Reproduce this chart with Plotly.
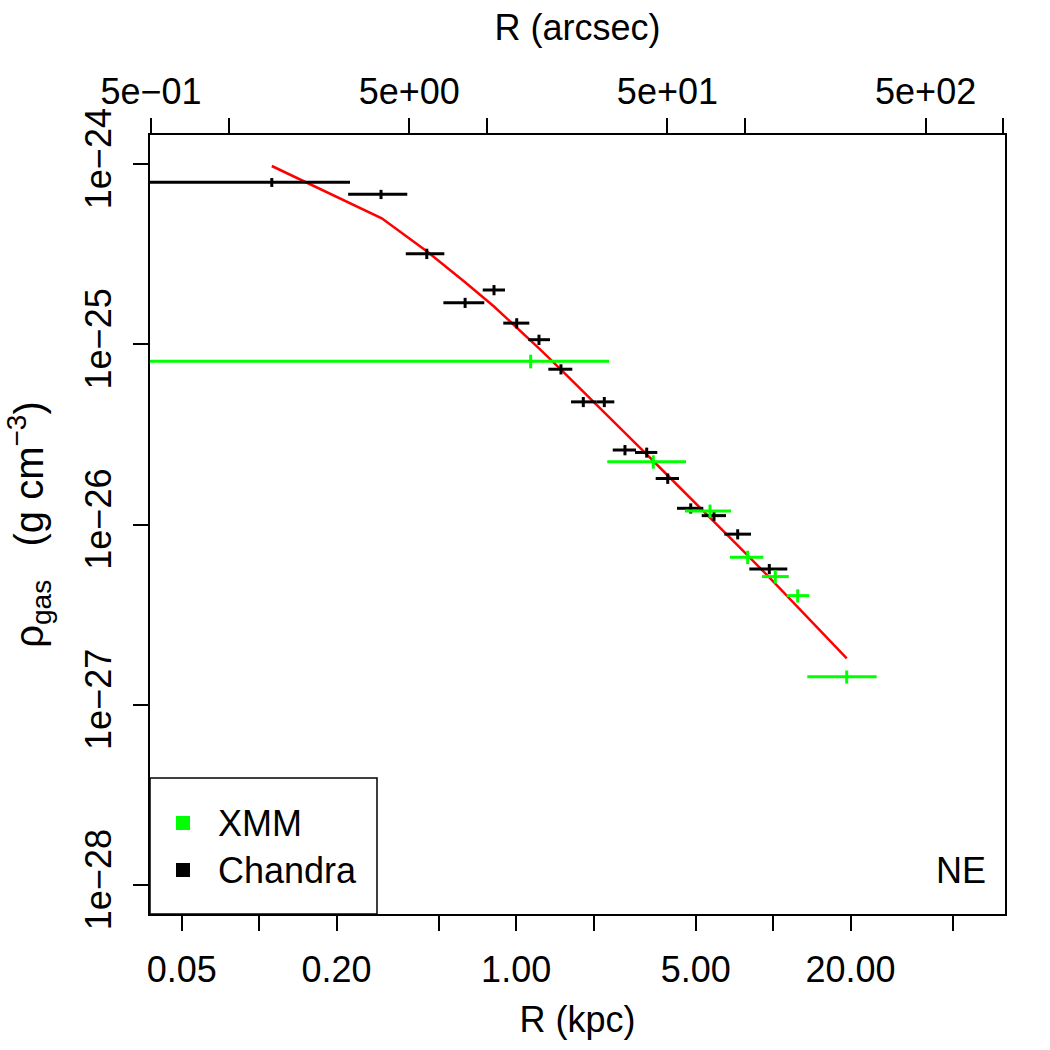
import plotly.graph_objects as go

# ---------------- data ----------------
# Chandra points: radius (kpc), bin edges (kpc), density (g cm^-3), density error
chandra_r = [0.112, 0.298, 0.449, 0.633, 0.820, 1.005, 1.227, 1.494, 1.825,
             2.203, 2.651, 3.221, 3.888, 4.778, 5.886, 7.278, 9.66]
chandra_r_lo = [0.02, 0.222, 0.372, 0.521, 0.741, 0.891, 1.115, 1.334, 1.635,
                2.054, 2.376, 2.900, 3.491, 4.225, 5.272, 6.455, 8.077]
chandra_r_hi = [0.2257, 0.377, 0.5255, 0.7516, 0.9049, 1.125, 1.354, 1.654, 2.054,
                2.410, 2.926, 3.542, 4.301, 5.348, 6.554, 8.20, 11.35]
chandra_rho = [7.91e-25, 6.79e-25, 3.18e-25, 1.70e-25, 2.00e-25, 1.31e-25, 1.06e-25,
               7.27e-26, 4.79e-26, 4.79e-26, 2.59e-26, 2.51e-26, 1.80e-26, 1.23e-26,
               1.12e-26, 8.84e-27, 5.67e-27]
chandra_rho_err = [0.45e-25, 0.40e-25, 0.21e-25, 0.11e-25, 0.13e-25, 0.085e-25, 0.07e-25,
                   0.47e-26, 0.31e-26, 0.31e-26, 0.17e-26, 0.16e-26, 0.12e-26, 0.08e-26,
                   0.073e-26, 0.57e-27, 0.37e-27]

# XMM points
xmm_r = [1.139, 3.417, 5.679, 7.96, 10.19, 12.46, 19.33]
xmm_r_lo = [0.02, 2.262, 4.539, 6.794, 9.05, 11.29, 13.58]
xmm_r_hi = [2.298, 4.58, 6.855, 9.155, 11.5, 13.82, 25.28]
xmm_rho = [8.05e-26, 2.23e-26, 1.19e-26, 6.59e-27, 5.14e-27, 4.03e-27, 1.43e-27]
xmm_rho_err = [0.7e-26, 0.19e-26, 0.10e-26, 0.56e-27, 0.44e-27, 0.34e-27, 0.12e-27]

# model curve (red)
model_r = [0.112, 0.300, 0.449, 0.633, 0.820, 1.005, 1.227, 1.494, 1.825, 2.203,
           2.651, 3.221, 3.888, 4.778, 5.886, 7.278, 9.66, 19.33]
model_rho = [9.75e-25, 5.00e-25, 3.28e-25, 2.21e-25, 1.62e-25, 1.24e-25, 9.48e-26,
             7.24e-26, 5.47e-26, 4.20e-26, 3.23e-26, 2.45e-26, 1.87e-26, 1.40e-26,
             1.04e-26, 7.66e-27, 5.09e-27, 1.81e-27]

# axes ticks
kpc_ticks = [0.05, 0.1, 0.2, 0.5, 1, 2, 5, 10, 20, 50]
kpc_labels = ["0.05", "", "0.20", "", "1.00", "", "5.00", "", "20.00", ""]
arcsec_ticks = [0.5, 1, 5, 10, 50, 100, 500, 1000]
arcsec_labels = ["5e\u221201", "", "5e+00", "", "5e+01", "", "5e+02", ""]
rho_ticks = [1e-24, 1e-25, 1e-26, 1e-27, 1e-28]
rho_labels = ["1e\u221224", "1e\u221225", "1e\u221226", "1e\u221227", "1e\u221228"]

legend_labels = ["XMM", "Chandra"]
legend_colors = ["#00ff00", "#000000"]
region_label = "NE"

# ---------------- figure ----------------
FONT = "Liberation Sans, Arial, Helvetica, sans-serif"
W = H = 1050
ML, MR, MT, MB = 150, 45, 135, 136
PW, PH = W - ML - MR, H - MT - MB


def px_x(px):
    return (px - ML) / PW


def px_y(py):
    return (H - MB - py) / PH


fig = go.Figure()

fig.add_trace(go.Scatter(
    x=model_r, y=model_rho, mode="lines",
    line=dict(color="#ff0000", width=2.5), showlegend=False, hoverinfo="skip"))


def add_points(r, rlo, rhi, rho, err, color, name):
    fig.add_trace(go.Scatter(
        x=r, y=rho, mode="markers", name=name,
        marker=dict(size=1, color=color),
        error_x=dict(type="data", symmetric=False,
                     array=[h - c for h, c in zip(rhi, r)],
                     arrayminus=[c - l for c, l in zip(r, rlo)],
                     color=color, thickness=3, width=0),
        error_y=dict(type="data", array=err, color=color, thickness=3, width=0),
        showlegend=False))


add_points(chandra_r, chandra_r_lo, chandra_r_hi, chandra_rho, chandra_rho_err,
           "#000000", "Chandra")
add_points(xmm_r, xmm_r_lo, xmm_r_hi, xmm_rho, xmm_rho_err, "#00ff00", "XMM")

# invisible trace to carry the top (arcsec) axis
fig.add_trace(go.Scatter(x=arcsec_ticks, y=[None] * len(arcsec_ticks), xaxis="x2",
                         mode="markers", showlegend=False, hoverinfo="skip"))

axis_common = dict(showgrid=False, zeroline=False, ticks="outside", ticklen=15,
                   tickwidth=1.5, tickcolor="black", showline=True, linewidth=2,
                   linecolor="black", automargin=False,
                   tickfont=dict(size=36, family=FONT, color="black"))

fig.update_layout(
    width=W, height=H, autosize=False,
    margin=dict(l=ML, r=MR, t=MT, b=MB, pad=0, autoexpand=False),
    paper_bgcolor="white", plot_bgcolor="white",
    font=dict(family=FONT, size=36, color="black"),
    showlegend=False,
    xaxis=dict(type="log", range=[-1.4247, 1.9021], tickvals=kpc_ticks,
               ticktext=kpc_labels, mirror=True, ticklabelstandoff=8,
               title=dict(text="R (kpc)", font=dict(size=36, family=FONT), standoff=18),
               **axis_common),
    xaxis2=dict(type="log", range=[-0.3049, 3.0064], overlaying="x", side="top",
                anchor="y", tickvals=arcsec_ticks, ticktext=arcsec_labels,
                ticklabelstandoff=0,
                title=dict(text="R (arcsec)", font=dict(size=36, family=FONT), standoff=19),
                **axis_common),
    yaxis=dict(type="log", range=[-28.161, -23.839], tickvals=rho_ticks,
               ticktext=rho_labels, tickangle=-90, mirror=True, ticklabelstandoff=8,
               title=dict(text="\u03c1<sub>gas</sub>   (g cm<sup>\u22123</sup>)",
                          font=dict(size=40, family=FONT), standoff=22),
               **axis_common),
)

# legend box (bottom-left)
shapes = [dict(type="rect", xref="paper", yref="paper",
               x0=px_x(150), x1=px_x(377), y0=px_y(914), y1=px_y(778),
               line=dict(color="black", width=1.5), fillcolor="white", layer="above")]
annotations = []
for i, (lab, col) in enumerate(zip(legend_labels, legend_colors)):
    cy = 823 + i * 47
    shapes.append(dict(type="rect", xref="paper", yref="paper",
                       x0=px_x(176), x1=px_x(190), y0=px_y(cy + 7), y1=px_y(cy - 7),
                       line=dict(width=0), fillcolor=col, layer="above"))
    annotations.append(dict(text=lab, xref="paper", yref="paper", x=px_x(216),
                            y=px_y(cy), xanchor="left", yanchor="middle",
                            showarrow=False, font=dict(size=36, family=FONT)))
annotations.append(dict(text=region_label, xref="paper", yref="paper", x=px_x(988),
                        y=px_y(870), xanchor="right", yanchor="middle",
                        showarrow=False, font=dict(size=36, family=FONT)))
fig.update_layout(shapes=shapes, annotations=annotations)

fig.write_html("out.html")
